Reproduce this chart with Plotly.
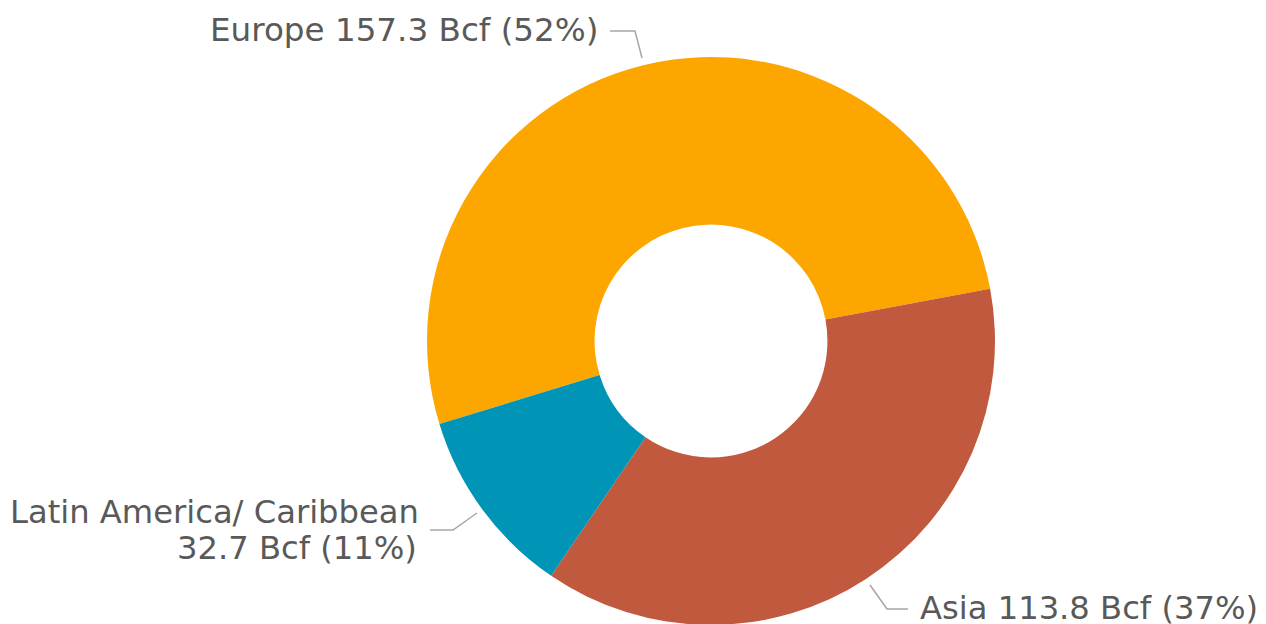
import plotly.graph_objects as go

# ---- data ----
regions = ["Europe", "Asia", "Latin America/ Caribbean"]
volumes_bcf = [157.3, 113.8, 32.7]
colors = ["#FDA600", "#C0593D", "#0095B7"]

W, H = 1266, 624
OFF = 8  # page body margin in the browser
total = sum(volumes_bcf)
pcts = [round(v / total * 100) for v in volumes_bcf]

def px(x):
    return (x - OFF) / W

def py(y):
    return 1 - (y - OFF) / H

# pie circle in screen pixels: centre (711, 341), radius 284
cx, cy, r = 711, 341, 284

fig = go.Figure(
    go.Pie(
        labels=regions,
        values=volumes_bcf,
        marker=dict(colors=colors, line=dict(width=0)),
        hole=0.41,
        sort=False,
        direction="clockwise",
        rotation=-107,
        textinfo="none",
        hoverinfo="label+value+percent",
        showlegend=False,
        domain=dict(x=[px(cx - r), px(cx + r)], y=[py(cy + r), py(cy - r)]),
    )
)

def font(size):
    return dict(family="DejaVu Sans, Verdana, sans-serif", size=size, color="#595959")

annotations = [
    dict(text=f"{regions[0]} {volumes_bcf[0]} Bcf ({pcts[0]}%)",
         x=px(600), y=py(30), xanchor="right", yanchor="middle", font=font(32.6)),
    dict(text=f"{regions[1]} {volumes_bcf[1]} Bcf ({pcts[1]}%)",
         x=px(918), y=py(608), xanchor="left", yanchor="middle", font=font(32.2)),
    dict(text=f"{regions[2]}",
         x=px(421), y=py(512), xanchor="right", yanchor="middle", font=font(32.2)),
    dict(text=f"{volumes_bcf[2]} Bcf ({pcts[2]}%)",
         x=px(419), y=py(548), xanchor="right", yanchor="middle", font=font(32.2)),
]
for a in annotations:
    a.update(xref="paper", yref="paper", showarrow=False)

def path(points):
    return "M " + " L ".join(f"{px(x)},{py(y)}" for x, y in points)

leaders = [
    [(610, 31), (635, 31), (642, 58)],
    [(870, 585), (887, 609), (908, 609)],
    [(430, 530), (453, 530), (477, 513)],
]
shapes = [
    dict(type="path", xref="paper", yref="paper", path=path(p),
         line=dict(color="#A6A6A6", width=1.5))
    for p in leaders
]

fig.update_layout(
    width=W,
    height=H,
    margin=dict(l=0, r=0, t=0, b=0),
    paper_bgcolor="white",
    plot_bgcolor="white",
    annotations=annotations,
    shapes=shapes,
)

fig.write_html("out.html")
